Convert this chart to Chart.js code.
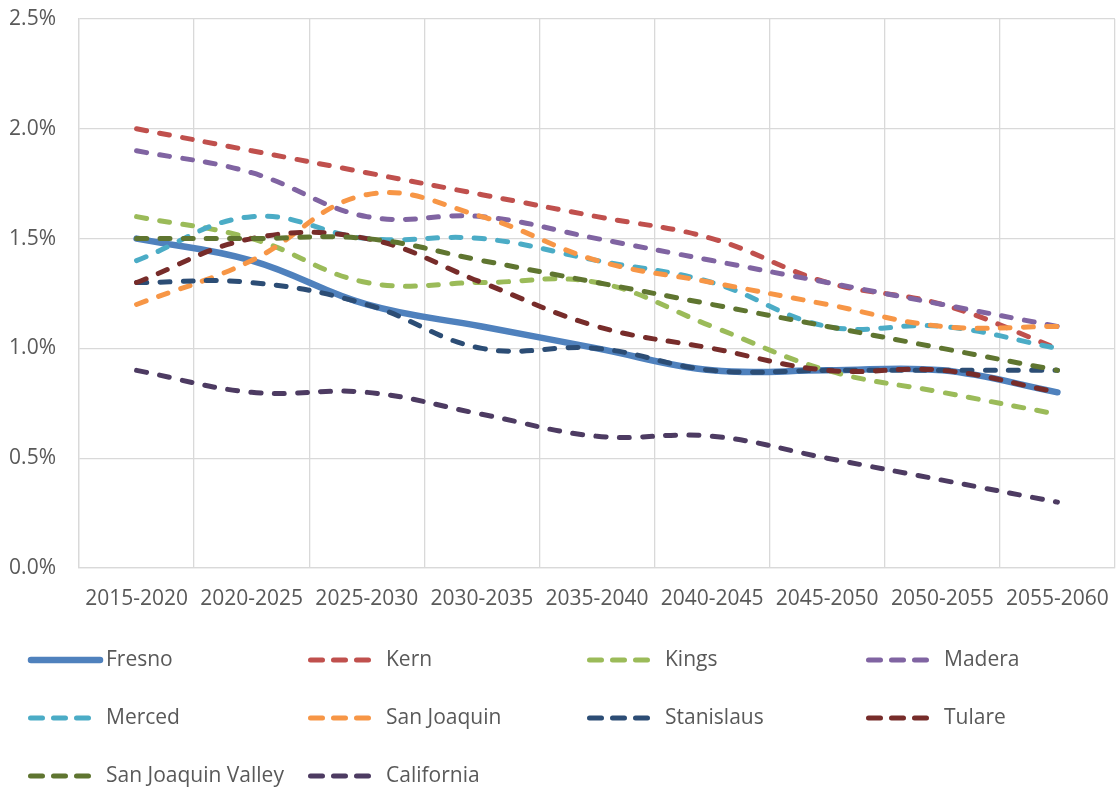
<!DOCTYPE html>
<html>
<head>
<meta charset="utf-8">
<script src="https://cdn.jsdelivr.net/npm/chart.js@4.4.1/dist/chart.umd.min.js"></script>
<style>
    html, body { margin: 0; padding: 0; background: #fff; }
    #wrap { width: 1120px; height: 788px; }
</style>
</head>
<body>
<div id="wrap"><canvas id="chart" width="1120" height="788"></canvas></div>
<script>
// annual growth rate (%) by 5-year period
const periods = ['2015-2020', '2020-2025', '2025-2030', '2030-2035', '2035-2040',
                 '2040-2045', '2045-2050', '2050-2055', '2055-2060'];

const fresno      = [1.5, 1.4, 1.2, 1.1, 1.0, 0.9, 0.9, 0.9, 0.8];
const kern        = [2.0, 1.9, 1.8, 1.7, 1.6, 1.5, 1.3, 1.2, 1.0];
const kings       = [1.6, 1.5, 1.3, 1.3, 1.3, 1.1, 0.9, 0.8, 0.7];
const madera      = [1.9, 1.8, 1.6, 1.6, 1.5, 1.4, 1.3, 1.2, 1.1];
const merced      = [1.4, 1.6, 1.5, 1.5, 1.4, 1.3, 1.1, 1.1, 1.0];
const sanJoaquin  = [1.2, 1.4, 1.7, 1.6, 1.4, 1.3, 1.2, 1.1, 1.1];
const stanislaus  = [1.3, 1.3, 1.2, 1.0, 1.0, 0.9, 0.9, 0.9, 0.9];
const tulare      = [1.3, 1.5, 1.5, 1.3, 1.1, 1.0, 0.9, 0.9, 0.8];
const sjValley    = [1.5, 1.5, 1.5, 1.4, 1.3, 1.2, 1.1, 1.0, 0.9];
const california  = [0.9, 0.8, 0.8, 0.7, 0.6, 0.6, 0.5, 0.4, 0.3];

const yTicks = [0, 0.5, 1.0, 1.5, 2.0, 2.5];

const FONT = '"Open Sans", "Liberation Sans", sans-serif';
const TEXT = '#595959';
const GRID = '#d9d9d9';

function series(label, data, color, solid) {
    return {
        label: label,
        data: data,
        borderColor: color,
        backgroundColor: color,
        borderWidth: solid ? 6.5 : 5,
        borderDash: solid ? [] : [10, 13.3],
        borderCapStyle: 'round',
        borderJoinStyle: 'round',
        pointRadius: 0,
        tension: 0.4,
        fill: false
    };
}

const datasets = [
    series('Fresno', fresno, '#4f81bd', true),
    series('Kern', kern, '#c0504d'),
    series('Kings', kings, '#9bbb59'),
    series('Madera', madera, '#8064a2'),
    series('Merced', merced, '#4bacc6'),
    series('San Joaquin', sanJoaquin, '#f79646'),
    series('Stanislaus', stanislaus, '#2c4d75'),
    series('Tulare', tulare, '#772c2a'),
    series('San Joaquin Valley', sjValley, '#5f7530'),
    series('California', california, '#4d3b62')
];
// later series are painted on top, like the source
datasets.forEach((ds, i) => { ds.order = datasets.length - i; });

// legend laid out as a 4-column grid under the axis
const gridLegend = {
    id: 'gridLegend',
    afterDraw(chart) {
        const ctx = chart.ctx;
        const colX = [28, 308, 587, 866];
        const rowY = [660, 718, 776];
        chart.data.datasets.forEach((ds, i) => {
            const x = colX[i % 4];
            const y = rowY[Math.floor(i / 4)];
            ctx.save();
            ctx.strokeStyle = ds.borderColor;
            ctx.lineWidth = ds.borderWidth;
            ctx.lineCap = 'round';
            ctx.beginPath();
            if (ds.borderDash.length) {
                ctx.setLineDash([12, 11]);
                ctx.moveTo(x + 2.5, y);
                ctx.lineTo(x + 61.5, y);
            } else {
                ctx.moveTo(x + 3, y);
                ctx.lineTo(x + 72, y);
            }
            ctx.stroke();
            ctx.setLineDash([]);
            ctx.fillStyle = TEXT;
            ctx.font = '21px ' + FONT;
            ctx.textBaseline = 'middle';
            ctx.textAlign = 'left';
            ctx.fillText(ds.label, x + 78, y);
            ctx.restore();
        });
    }
};

new Chart(document.getElementById('chart'), {
    type: 'line',
    data: { labels: periods, datasets: datasets },
    options: {
        responsive: false,
        animation: false,
        layout: { padding: { top: 19, right: 5, bottom: 175, left: 0 } },
        plugins: {
            legend: { display: false },
            tooltip: { enabled: false }
        },
        scales: {
            x: {
                offset: true,
                grid: { offset: true, color: GRID, lineWidth: 1.3, drawTicks: false },
                border: { color: GRID, width: 1.3 },
                ticks: {
                    color: TEXT,
                    font: { family: FONT, size: 21 },
                    padding: 18,
                    maxRotation: 0,
                    autoSkip: false
                },
                afterFit(scale) {
                    scale.height = 45;
                    scale.paddingLeft = 0;
                    scale.paddingRight = 0;
                }
            },
            y: {
                min: yTicks[0],
                max: yTicks[yTicks.length - 1],
                afterBuildTicks(scale) {
                    scale.ticks = yTicks.map(v => ({ value: v }));
                },
                grid: { color: GRID, lineWidth: 1.3, drawTicks: false },
                border: { color: GRID, width: 1.3 },
                ticks: {
                    color: TEXT,
                    font: { family: FONT, size: 21 },
                    padding: 23,
                    callback: v => v.toFixed(1) + '%'
                },
                afterFit(scale) {
                    scale.width = 79;
                    scale.paddingTop = 0;
                    scale.paddingBottom = 0;
                }
            }
        }
    },
    plugins: [gridLegend]
});
</script>
</body>
</html>
